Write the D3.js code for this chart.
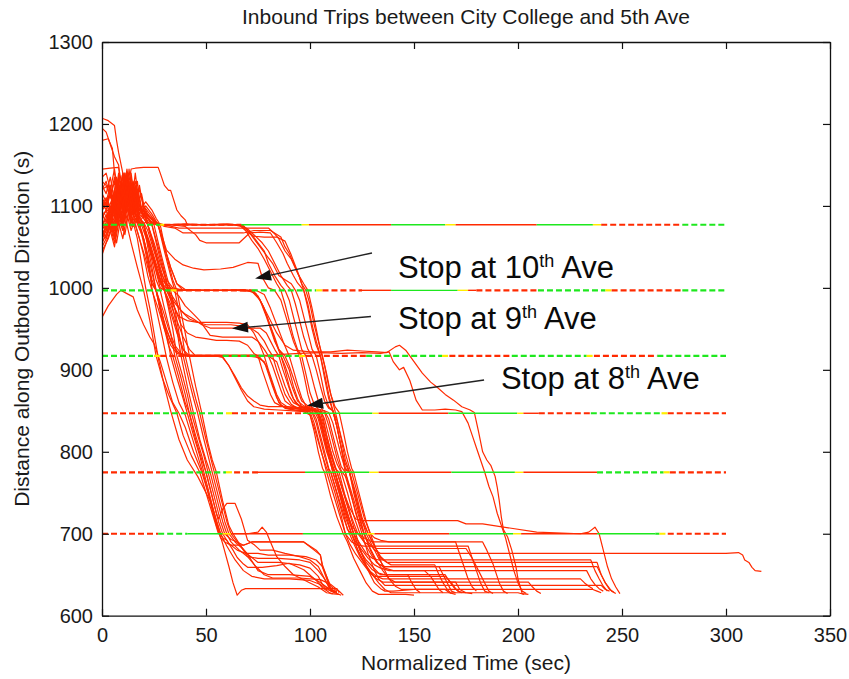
<!DOCTYPE html>
<html><head><meta charset="utf-8">
<script src="https://cdn.jsdelivr.net/npm/d3@7"></script>
<style>
body{margin:0;background:#fff;}
text{font-family:"Liberation Sans",Arial,Helvetica,sans-serif;}
</style>
</head><body>
<svg id="chart" width="849" height="679"></svg>
<script>
// ---------------- data ----------------
const title = "Inbound Trips between City College and 5th Ave";
const xLabel = "Normalized Time (sec)";
const yLabel = "Distance along Outbound Direction (s)";
const xTicks = [0, 50, 100, 150, 200, 250, 300, 350];
const yTicks = [600, 700, 800, 900, 1000, 1100, 1200, 1300];

// signal stop-line positions (s) and their phase plans [start, end, state, kind] (kind: d = dashed plan, s = solid)
const stopLevels = [1077, 997, 917, 847, 775, 700];
const signal1077 = [[0,28,'G','d'],[28,30,'Y','d'],[30,67,'R','d'],[67,96,'G','s'],[96,99.5,'Y','s'],[99.5,139,'R','s'],[139,165,'G','s'],[165,170,'Y','s'],[170,209,'R','s'],[209,236,'G','s'],[236,240,'Y','s'],[240,279,'R','d'],[279,300,'G','d']];
const signal997 = [[0,33,'G','d'],[33,36,'Y','d'],[36,72,'R','d'],[72,103,'G','d'],[103,106,'Y','d'],[106,125,'R','d'],[125,139,'R','s'],[139,171,'G','s'],[171,176,'Y','s'],[176,180,'R','s'],[180,209.6,'R','d'],[209.6,242,'G','d'],[242,245,'Y','d'],[245,279,'R','d'],[279,300,'G','d']];
const signal917 = [[0,25,'G','d'],[25,28,'Y','d'],[28,58,'R','d'],[58,94.7,'G','d'],[94.7,98,'Y','d'],[98,127,'R','d'],[127,163.5,'G','d'],[163.5,167,'Y','d'],[167,197,'R','d'],[197,233,'G','d'],[233,236.5,'Y','d'],[236.5,267,'R','d'],[267,300,'G','d']];
const signal847 = [[0,25,'R','d'],[25,59.6,'G','d'],[59.6,62.5,'Y','d'],[62.5,96.6,'R','d'],[96.6,130,'G','s'],[130,133,'Y','s'],[133,166.5,'R','s'],[166.5,199.6,'G','s'],[199.6,202.6,'Y','s'],[202.6,210,'R','s'],[210,235,'R','d'],[235,269,'G','d'],[269,272,'Y','d'],[272,300,'R','d']];
const signal775 = [[0,28,'R','d'],[28,59.6,'G','d'],[59.6,63.5,'Y','d'],[63.5,75,'R','d'],[75,97.6,'R','s'],[97.6,128.5,'G','s'],[128.5,133,'Y','s'],[133,168,'R','s'],[168,198.5,'G','s'],[198.5,202.6,'Y','s'],[202.6,238,'R','s'],[238,270,'G','d'],[270,273,'Y','d'],[273,300,'R','d']];
const signal700 = [[0,27,'R','d'],[27,41,'G','d'],[41,58,'G','s'],[58,62,'Y','s'],[62,96.6,'R','s'],[96.6,127.5,'G','s'],[127.5,131,'Y','s'],[131,167,'R','s'],[167,197.6,'G','s'],[197.6,201.5,'Y','s'],[201.5,238,'R','s'],[238,266,'G','s'],[266,268,'G','d'],[268,272,'Y','d'],[272,300,'R','d']];
const signalPlans = [signal1077, signal997, signal917, signal847, signal775, signal700];

// fast trips (clear all signals in the first green wave)
const groupA = [
 [[0,1207],[3,1204],[6,1198],[7,1180],[8,1165],[10,1140],[11,1120],[12,1132],[13,1105],[14,1090],[15,1080],[17,1060],[19,1030],[21,1000],[23,975],[25,945],[27,915],[30,880],[33,850],[37,815],[41,790],[46,770],[50,750],[52,740],[54,720],[56,704],[58,688],[61,660],[63,640],[65,625],[67,631],[69,633],[113,633],[114,628]],
 [[0,1195],[2,1190],[4,1175],[6,1160],[8,1150],[9,1120],[10,1135],[12,1110],[14,1125],[15,1095],[17,1082],[19,1070],[22,1040],[24,1000],[26,975],[29,940],[31,915],[34,885],[37,860],[40,845],[43,820],[46,795],[49,770],[52,740],[55,710],[57,695],[59,690],[62,686],[68,686],[72,690],[90,690],[97,690],[103,680],[105,674],[106,659],[108,645],[110,631],[112,628]],
 [[0,1180],[3,1182],[5,1170],[6,1140],[8,1110],[9,1130],[11,1100],[13,1118],[15,1090],[17,1078],[20,1060],[23,1030],[26,997],[28,975],[31,945],[33,917],[36,890],[39,865],[41,847],[44,820],[47,795],[49,775],[52,745],[55,715],[57,700],[58,695],[60,692],[63,680],[65,671],[68,663],[70,659],[77,659],[84,661],[90,664],[97,656],[103,643],[106,634],[110,627],[114,626]],
 [[0,1145],[4,1146],[8,1147],[10,1120],[12,1140],[14,1100],[16,1110],[18,1085],[20,1077],[23,1045],[26,1010],[28,997],[30,975],[33,945],[35,917],[38,890],[40,870],[42,847],[45,820],[48,795],[50,775],[53,745],[55,725],[56,718],[58,730],[60,737],[64,737],[67,718],[70,692],[73,687],[76,680],[82,680],[88,676],[95,672],[100,668],[104,660],[106,650],[108,640],[111,630],[113,628]],
 [[0,1120],[3,1125],[5,1105],[7,1135],[9,1095],[11,1140],[13,1100],[15,1125],[17,1090],[20,1095],[22,1077],[25,1050],[28,1020],[30,997],[32,975],[34,950],[36,917],[39,890],[41,870],[43,847],[46,820],[49,795],[51,775],[54,745],[57,715],[59,700],[62,693],[65,690],[68,686],[72,690],[97,690],[102,680],[105,674],[106,662],[108,648],[110,631],[113,629]],
 [[0,1100],[2,1105],[4,1115],[6,1090],[8,1125],[10,1100],[12,1135],[14,1095],[16,1120],[18,1100],[21,1090],[24,1077],[27,1045],[30,1015],[32,997],[35,965],[38,917],[41,880],[44,847],[47,815],[50,790],[52,775],[55,745],[58,715],[60,700],[62,690],[66,680],[70,672],[75,670],[85,670],[95,668],[100,665],[104,655],[107,645],[109,635],[112,628]],
 [[0,1090],[3,1095],[5,1110],[7,1085],[9,1120],[11,1090],[13,1145],[15,1100],[17,1130],[19,1090],[22,1085],[25,1077],[28,1045],[31,1015],[33,997],[35,975],[37,945],[39,917],[42,885],[44,865],[46,847],[49,815],[51,795],[53,775],[56,745],[59,715],[61,700],[64,690],[67,683],[70,675],[75,665],[85,665],[95,662],[100,658],[104,648],[106,638],[110,630],[115,625]],
 [[0,1075],[2,1085],[5,1100],[7,1075],[9,1115],[11,1085],[13,1130],[15,1090],[17,1120],[19,1095],[21,1100],[24,1090],[27,1077],[30,1045],[33,1015],[35,997],[37,970],[40,917],[43,885],[45,865],[47,847],[50,815],[52,795],[54,775],[57,745],[60,715],[62,700],[65,690],[70,675],[75,655],[80,650],[90,650],[100,648],[104,642],[108,635],[112,630]],
 [[0,1065],[3,1080],[5,1105],[7,1080],[9,1110],[11,1090],[12,1077],[14,1055],[17,1025],[20,997],[23,960],[26,917],[29,890],[32,870],[36,847],[39,820],[43,795],[47,775],[50,750],[53,725],[56,700],[60,700],[70,700],[75,702],[77,708],[79,702],[81,690],[84,672],[88,660],[92,650],[96,645],[100,640],[104,635],[108,628],[111,627]],
 [[0,1060],[2,1070],[4,1090],[6,1075],[8,1100],[10,1085],[12,1115],[14,1090],[16,1110],[18,1095],[21,1105],[24,1095],[26,1085],[28,1077],[31,1040],[34,1010],[36,997],[38,970],[40,945],[42,917],[45,880],[48,847],[51,810],[53,790],[55,775],[58,740],[61,710],[63,700],[66,688],[70,672],[74,660],[78,650],[82,646],[95,646],[105,644],[110,638],[114,630],[116,625]],
 [[0,964],[3,978],[5,985],[7,992],[9,997],[12,993],[15,989],[17,973],[20,955],[23,940],[25,932],[28,910],[31,885],[34,860],[37,847],[40,830],[44,800],[48,775],[51,750],[54,725],[57,700],[60,685],[64,668],[68,655],[72,648],[78,645],[90,645],[100,643],[105,638],[108,632],[112,629]],
 [[0,1082],[3,1070],[5,1090],[8,1110],[10,1095],[12,1125],[14,1100],[16,1078],[18,1060],[21,1035],[24,1005],[26,997],[29,960],[32,930],[34,917],[37,890],[40,860],[42,847],[45,815],[48,790],[50,775],[53,745],[56,715],[58,700],[61,688],[65,680],[69,676],[75,676],[80,674],[90,674],[98,672],[103,668],[106,660],[108,648],[110,636],[113,630]]
];

// trips delayed at the upstream signals / stops
const groupB = [
 [[0,1110],[2,1100],[4,1120],[6,1095],[8,1130],[10,1100],[12,1140],[14,1105],[16,1125],[18,1095],[20,1100],[23,1090],[26,1080],[28,1070],[31,1046],[35,1035],[39,1028],[44,1024],[49,1022],[57,1023],[63,1025],[70,1031],[75,1030],[77,1013],[80,1000],[83,997],[86,985],[89,960],[92,935],[95,917],[97,895],[99,870],[101,852],[104,850],[106,845],[108,820],[110,800],[113,775],[116,750],[119,725],[122,700],[125,675],[128,655],[131,640],[134,633],[136,630],[140,630],[150,632],[160,632],[165,632],[167,628],[170,626]],
 [[0,1100],[3,1105],[5,1090],[7,1125],[9,1095],[11,1140],[13,1100],[15,1130],[17,1100],[19,1115],[21,1090],[24,1085],[27,1077],[33,1077],[40,1075],[45,1065],[47,1058],[50,1055],[58,1055],[66,1055],[71,1067],[76,1068],[81,1067],[84,1055],[87,1042],[89,1030],[92,1015],[94,1006],[97,997],[99,975],[101,950],[103,930],[105,917],[107,890],[109,865],[111,850],[113,830],[115,805],[117,775],[120,745],[122,725],[125,700],[128,675],[131,655],[133,645],[136,637],[140,637],[160,637],[200,637],[240,637],[242,632],[244,630]],
 [[0,1095],[2,1100],[4,1115],[6,1090],[8,1120],[10,1095],[12,1135],[14,1100],[16,1120],[18,1090],[20,1095],[23,1085],[26,1080],[30,1075],[35,1073],[39,1067],[50,1067],[60,1067],[68,1067],[73,1070],[81,1070],[86,1062],[88,1050],[90,1042],[93,1025],[95,1013],[97,997],[99,980],[101,955],[103,935],[105,917],[107,895],[109,870],[111,850],[113,830],[115,805],[117,785],[119,775],[121,750],[124,720],[126,700],[129,680],[132,665],[135,660],[140,660],[162,660],[164,650],[166,640],[168,630],[170,628]],
 [[0,1085],[2,1095],[4,1080],[6,1110],[8,1085],[10,1125],[12,1095],[14,1140],[16,1100],[18,1125],[20,1095],[22,1090],[25,1080],[30,1077],[37,1073],[45,1073],[55,1073],[65,1073],[75,1073],[80,1073],[83,1066],[85,1060],[88,1045],[91,1035],[94,1018],[97,1005],[99,997],[101,975],[103,950],[105,925],[107,905],[109,880],[111,860],[113,840],[115,815],[117,790],[119,775],[122,745],[125,715],[128,700],[131,685],[134,670],[137,665],[140,665],[200,665],[238,665],[240,650],[242,640],[245,630],[247,627]],
 [[0,1130],[2,1125],[4,1110],[6,1130],[8,1100],[10,1140],[12,1105],[14,1120],[16,1090],[18,1085],[20,1077],[23,1055],[26,1030],[29,1010],[32,1000],[36,997],[45,997],[55,997],[65,997],[72,996],[75,990],[78,975],[80,960],[83,940],[85,925],[87,917],[90,900],[92,880],[94,865],[96,855],[100,852],[103,850],[105,840],[107,815],[109,795],[111,775],[114,750],[117,725],[120,700],[123,680],[126,665],[129,652],[132,645],[135,641],[140,641],[160,641],[170,641],[172,632],[175,628],[178,627]],
 [[0,1070],[2,1080],[4,1095],[6,1075],[8,1105],[10,1080],[12,1120],[14,1095],[16,1110],[18,1085],[20,1080],[22,1070],[25,1045],[28,1020],[31,1005],[34,998],[40,997],[50,997],[60,997],[70,997],[74,993],[77,980],[80,960],[82,945],[84,930],[86,917],[88,900],[90,880],[92,865],[95,855],[98,852],[102,850],[104,845],[106,830],[108,810],[110,790],[112,775],[115,750],[118,725],[121,700],[124,680],[127,665],[130,656],[134,650],[140,650],[147,650],[149,640],[151,632],[153,628]],
 [[0,1055],[2,1065],[4,1080],[6,1060],[8,1090],[10,1075],[12,1105],[14,1080],[16,1095],[18,1075],[20,1077],[23,1050],[26,1025],[29,1005],[32,997],[35,985],[38,972],[42,962],[46,958],[50,955],[56,955],[62,955],[68,953],[72,950],[75,945],[78,935],[80,925],[82,917],[84,900],[86,885],[88,870],[91,858],[94,853],[98,851],[102,850],[104,840],[106,820],[108,800],[110,785],[112,775],[115,745],[118,720],[121,700],[124,688],[127,676],[130,670],[133,668],[140,668],[180,668],[220,668],[235,668],[237,655],[239,645],[241,636],[243,630]],
 [[0,1045],[3,1060],[5,1075],[7,1055],[9,1085],[11,1065],[13,1095],[15,1075],[17,1085],[19,1077],[22,1055],[25,1030],[28,1005],[31,997],[34,985],[37,975],[40,968],[44,962],[48,955],[52,951],[58,951],[64,951],[70,951],[76,951],[79,945],[81,935],[83,925],[85,917],[87,900],[89,885],[91,870],[93,860],[96,855],[100,852],[104,850],[106,835],[108,815],[110,795],[112,780],[114,775],[117,745],[120,720],[123,700],[126,690],[129,685],[132,682],[140,682],[160,682],[175,682],[178,670],[181,655],[184,640],[186,630],[188,627]],
 [[0,1075],[2,1090],[4,1070],[6,1100],[8,1080],[10,1115],[12,1090],[14,1130],[16,1095],[18,1110],[20,1085],[22,1077],[25,1050],[28,1025],[31,1000],[34,997],[37,990],[40,978],[44,968],[47,960],[52,942],[58,940],[66,940],[72,940],[75,935],[78,925],[80,917],[82,905],[84,890],[86,875],[88,862],[91,856],[95,853],[99,851],[103,850],[105,838],[107,815],[109,795],[111,775],[114,750],[117,720],[120,700],[123,680],[126,665],[129,654],[132,648],[135,645],[140,645],[200,645],[230,645],[232,640],[234,636],[236,633]],
 [[0,1065],[2,1075],[4,1090],[6,1070],[8,1100],[10,1080],[12,1115],[14,1090],[16,1100],[18,1080],[20,1077],[22,1050],[24,1025],[26,997],[28,975],[31,950],[34,930],[37,920],[40,917],[50,917],[60,917],[70,917],[76,915],[79,905],[81,890],[83,875],[85,860],[88,853],[92,851],[97,850],[100,849],[102,835],[104,815],[106,795],[108,775],[111,750],[114,725],[117,700],[120,690],[123,686],[126,685],[130,685],[150,685],[170,685],[176,685],[178,670],[180,655],[182,640],[184,630],[186,628]],
 [[0,1050],[2,1060],[4,1075],[6,1055],[8,1085],[10,1070],[12,1100],[14,1075],[16,1090],[18,1077],[20,1060],[22,1035],[24,1010],[26,997],[28,980],[30,955],[33,935],[36,922],[40,918],[50,918],[62,918],[72,918],[80,917],[84,910],[86,895],[88,880],[90,868],[92,860],[95,856],[99,853],[102,851],[104,845],[106,825],[108,805],[110,785],[112,775],[114,755],[117,730],[120,710],[123,700],[126,695],[130,690],[140,690],[165,690],[170,690],[172,675],[174,660],[176,645],[178,635],[180,630]],
 [[0,1090],[2,1080],[4,1100],[6,1085],[8,1120],[10,1090],[12,1130],[14,1100],[16,1115],[18,1090],[20,1085],[22,1077],[25,1050],[28,1020],[30,997],[33,970],[36,945],[39,925],[42,917],[55,917],[70,917],[82,917],[86,917],[88,905],[90,890],[92,875],[94,862],[97,856],[100,853],[103,851],[105,848],[107,830],[109,810],[111,790],[113,775],[116,752],[119,732],[122,718],[125,716],[140,716],[171,716],[175,712],[183,712],[209,702],[230,700],[234,702],[237,708],[239,700],[241,680],[243,660],[245,645],[247,635],[249,627]],
 [[0,1060],[2,1070],[4,1085],[6,1065],[8,1095],[10,1075],[12,1110],[14,1085],[16,1100],[18,1080],[20,1088],[22,1082],[25,1079],[30,1077],[40,1077],[50,1077],[60,1077],[67,1077],[70,1070],[73,1060],[76,1050],[79,1040],[82,1030],[85,1015],[88,1010],[91,1005],[93,997],[95,985],[97,965],[99,945],[101,925],[103,917],[105,895],[107,870],[109,855],[111,850],[113,830],[115,805],[117,780],[119,775],[121,755],[124,725],[127,700],[130,685],[133,670],[136,658],[140,655],[180,655],[225,655],[233,655],[235,645],[237,638],[239,633],[241,630]],
 [[0,1040],[2,1055],[4,1070],[6,1050],[8,1080],[10,1060],[12,1090],[14,1070],[16,1085],[18,1075],[21,1080],[25,1078],[30,1077],[40,1078],[50,1077],[60,1078],[68,1076],[72,1065],[75,1055],[78,1045],[80,1030],[83,1015],[86,1003],[88,997],[90,985],[92,965],[94,945],[96,925],[98,917],[100,900],[102,880],[104,862],[106,851],[109,848],[111,835],[113,815],[115,795],[117,778],[119,775],[122,750],[125,720],[128,700],[131,685],[134,672],[137,665],[139,662],[142,662],[160,662],[162,650],[164,640],[166,632],[168,627]],
 [[0,1115],[2,1105],[4,1125],[6,1100],[8,1135],[10,1110],[12,1145],[14,1110],[16,1130],[18,1100],[20,1090],[22,1080],[24,1077],[27,1050],[30,1020],[32,997],[35,975],[38,955],[41,945],[45,940],[50,938],[55,936],[60,936],[66,935],[70,930],[73,920],[75,917],[77,900],[79,885],[81,870],[83,860],[86,856],[90,853],[95,852],[98,850],[100,845],[102,825],[104,800],[106,780],[107,775],[110,745],[113,720],[116,700],[118,690],[121,670],[124,655],[127,640],[130,630],[133,626],[140,626],[146,626],[150,625]],
 [[0,1135],[2,1140],[4,1120],[6,1145],[8,1110],[10,1140],[12,1115],[14,1145],[16,1146],[20,1147],[25,1147],[27,1147],[28,1140],[30,1125],[32,1119],[33,1119],[34,1111],[36,1095],[38,1088],[40,1083],[41,1077],[50,1077],[60,1077],[66,1077],[69,1070],[72,1058],[75,1048],[78,1035],[81,1020],[84,1005],[86,997],[88,980],[90,960],[92,940],[94,925],[96,917],[98,895],[100,872],[102,858],[104,852],[107,850],[109,840],[111,820],[113,800],[115,782],[117,775],[120,750],[123,725],[126,700],[128,690],[131,680],[134,676],[140,676],[200,676],[260,676],[300,676],[306,677],[308,674],[309,668],[311,665],[312.5,659],[314,655],[317,654]],
 [[0,1080],[2,1070],[4,1095],[6,1080],[8,1110],[10,1085],[12,1125],[14,1095],[16,1140],[18,1100],[20,1090],[22,1077],[25,1055],[28,1030],[31,1010],[34,1000],[38,998],[48,997],[58,997],[68,998],[73,996],[76,985],[79,965],[81,950],[83,935],[85,925],[88,917],[90,905],[92,890],[94,875],[96,862],[99,856],[102,853],[105,851],[107,840],[109,820],[111,800],[113,785],[115,775],[118,750],[121,722],[124,700],[127,685],[130,672],[133,663],[136,660],[140,660],[180,660],[238,660],[240,650],[242,640],[244,632],[246,629]],
 [[0,1055],[2,1065],[4,1080],[6,1060],[8,1095],[10,1075],[12,1100],[14,1080],[16,1077],[18,1060],[20,1040],[22,1015],[24,997],[27,975],[30,950],[33,930],[36,920],[40,917],[48,917],[55,917],[58,915],[61,905],[64,890],[67,875],[70,862],[73,855],[78,852],[85,851],[92,850],[97,849],[100,845],[102,830],[104,812],[106,795],[108,780],[109,775],[112,750],[115,722],[117,700],[119,688],[122,675],[125,665],[128,655],[131,648],[134,648],[140,648],[165,648],[168,640],[170,633],[172,629],[175,628]],
 [[0,1105],[2,1095],[4,1115],[6,1090],[8,1125],[10,1100],[12,1130],[14,1095],[16,1110],[18,1085],[20,1090],[23,1082],[26,1077],[35,1077],[45,1077],[55,1077],[63,1077],[67,1075],[70,1068],[73,1063],[78,1062],[84,1062],[88,1057],[91,1040],[94,1020],[96,1005],[98,997],[100,980],[102,955],[104,935],[106,917],[108,895],[110,870],[112,855],[114,848],[116,825],[118,800],[120,780],[121,775],[124,745],[127,715],[129,700],[132,680],[135,660],[138,645],[141,636],[144,632],[150,632],[200,632],[236,632],[238,630],[240,628]],
 [[0,1120],[2,1130],[4,1110],[6,1135],[8,1105],[10,1140],[12,1110],[14,1135],[16,1105],[18,1120],[20,1100],[22,1090],[25,1080],[27,1077],[30,1050],[33,1025],[36,1005],[40,998],[50,997],[60,997],[70,997],[74,997],[78,992],[81,975],[84,955],[87,935],[90,917],[92,900],[94,882],[96,866],[98,856],[101,852],[104,850],[107,848],[109,832],[111,812],[113,792],[115,777],[117,770],[120,745],[123,718],[126,700],[129,682],[132,667],[135,655],[138,645],[141,641],[145,641],[170,641],[205,641],[207,635],[209,630],[211,627]],
 [[0,1070],[2,1060],[4,1085],[6,1070],[8,1100],[10,1080],[12,1120],[14,1090],[16,1105],[18,1095],[21,1088],[24,1080],[28,1077],[38,1077],[48,1077],[58,1077],[66,1077],[70,1072],[73,1065],[77,1055],[80,1045],[83,1030],[86,1015],[89,1003],[91,997],[93,980],[95,960],[97,940],[99,925],[101,917],[103,900],[105,880],[107,862],[109,853],[111,850],[113,838],[115,818],[117,798],[119,780],[120,775],[123,748],[126,720],[129,700],[131,695],[134,692],[138,690],[150,690],[170,690],[183,690],[185,680],[188,663],[191,640],[193,630],[195,627]],
 [[0,1100],[2,1110],[4,1095],[6,1120],[8,1090],[10,1130],[12,1100],[14,1120],[16,1090],[18,1080],[20,1077],[23,1050],[26,1025],[29,1000],[31,997],[34,980],[37,965],[41,960],[46,958],[52,958],[60,958],[66,957],[70,955],[73,945],[76,930],[78,917],[80,900],[82,885],[84,870],[86,860],[89,855],[93,853],[97,851],[101,850],[103,840],[105,820],[107,800],[109,780],[110,775],[113,748],[116,720],[119,700],[121,688],[124,672],[127,660],[130,650],[133,640],[136,632],[139,628],[145,628],[160,628],[200,628],[203,626]],
 [[0,1085],[2,1095],[4,1080],[6,1105],[8,1085],[10,1120],[12,1095],[14,1110],[16,1090],[18,1077],[20,1055],[22,1030],[24,1005],[26,997],[29,975],[32,950],[35,930],[38,920],[41,917],[52,917],[64,917],[74,916],[78,910],[80,895],[82,880],[84,866],[86,857],[89,853],[93,851],[98,850],[101,848],[103,835],[105,815],[107,795],[109,778],[110,775],[113,750],[116,725],[118,705],[120,700],[122,690],[125,680],[128,670],[131,662],[134,658],[138,655],[145,655],[155,655],[158,648],[160,640],[162,632],[164,628]],
 [[0,1095],[2,1105],[4,1085],[6,1115],[8,1095],[10,1125],[12,1105],[14,1115],[16,1090],[18,1085],[20,1078],[22,1060],[25,1035],[28,1010],[30,997],[33,975],[36,950],[39,925],[41,917],[50,917],[58,916],[61,905],[64,892],[67,878],[70,868],[73,862],[76,857],[80,855],[88,855],[95,854],[100,853],[103,850],[105,840],[107,818],[109,798],[111,780],[112,775],[115,750],[118,725],[121,700],[124,680],[127,668],[130,660],[133,652],[136,650],[140,650],[165,650],[167,642],[169,635],[171,630],[173,628]]
];

// very slow trips
const slowTrips = [
 [[0,1125],[2,1115],[4,1135],[6,1105],[8,1140],[10,1110],[12,1130],[14,1100],[16,1120],[18,1095],[21,1088],[24,1080],[27,1077],[30,1050],[33,1025],[36,1005],[39,997],[45,997],[55,997],[65,997],[72,996],[76,985],[80,965],[84,945],[88,930],[92,924],[100,922],[110,922],[118,924],[125,923],[132,922],[137,921],[141,928],[143,930],[146,924],[150,910],[154,896],[158,885],[161,879],[165,870],[169,863],[173,855],[177,851],[179,848],[181,825],[183,800],[185,790],[187,783],[189,770],[190,757],[191,740],[192,720],[193,705],[195,696],[197,680],[199,660],[200,645],[202,627],[205,626]],
 [[0,1060],[2,1075],[4,1090],[6,1070],[8,1105],[10,1080],[12,1115],[14,1090],[16,1105],[18,1085],[20,1077],[23,1050],[26,1020],[28,1000],[30,997],[33,980],[36,960],[39,940],[42,925],[45,917],[60,917],[80,918],[95,920],[105,921],[115,920],[125,921],[134,920],[138,922],[140,910],[143,900],[145,903],[148,887],[151,863],[154,851],[160,851],[165,852],[170,851],[173,849],[176,835],[178,820],[180,805],[182,790],[184,775],[186,758],[188,745],[190,725],[192,710],[194,695],[196,675],[198,655],[200,640],[202,630],[204,627]]
];

// annotation arrows: tail and tip in data units, label anchor
const annotations = [
 {num: "10", tail: [129.8, 1042.6], tip: [73.6, 1011.4], label: [142.3, 1012]},
 {num: "9",  tail: [129.3, 965.1],  tip: [62.5, 950.4],  label: [142.3, 950]},
 {num: "8",  tail: [183.7, 887.6],  tip: [98.6, 856.5],  label: [191.8, 876.6]}
];

// ---------------- drawing ----------------
const W = 849, H = 679;
const M = {left: 102, right: 830, top: 42, bottom: 615.7};
const svg = d3.select("#chart");
const x = d3.scaleLinear().domain([0, 350]).range([M.left, M.right]);
const y = d3.scaleLinear().domain([600, 1300]).range([M.bottom, M.top]);

const colors = {G: "#1ee81e", Y: "#ffee00", R: "#ff2a00"};
const tripColor = "#ff2a00";

svg.append("rect").attr("width", W).attr("height", H).attr("fill", "#fff");

svg.append("defs").append("clipPath").attr("id", "clip")
  .append("rect").attr("x", M.left).attr("y", M.top)
  .attr("width", M.right - M.left).attr("height", M.bottom - M.top);

const plot = svg.append("g").attr("clip-path", "url(#clip)");
const line = d3.line().x(d => x(d[0])).y(d => y(d[1]));

const allTrips = groupA.concat(groupB, slowTrips);
plot.append("g").selectAll("path").data(allTrips).join("path")
  .attr("d", line).attr("fill", "none")
  .attr("stroke", tripColor).attr("stroke-width", 1.2)
  .attr("stroke-linejoin", "round");

// signals on top
stopLevels.forEach((lvl, i) => {
  const g = plot.append("g");
  g.selectAll("line").data(signalPlans[i]).join("line")
    .attr("x1", d => x(d[0])).attr("x2", d => x(d[1]))
    .attr("y1", y(lvl)).attr("y2", y(lvl))
    .attr("stroke", d => colors[d[2]])
    .attr("stroke-width", d => d[3] === 'd' ? 2.2 : 1.4)
    .attr("stroke-dasharray", d => d[3] === 'd' ? "6,3" : null);
});

// axes
const axisColor = "#111";
const fmt = d3.format("d");
const gx = svg.append("g").attr("transform", `translate(0,${M.bottom})`)
  .call(d3.axisBottom(x).tickValues(xTicks).tickFormat(fmt).tickSize(-7).tickSizeOuter(0).tickPadding(12));
const gxt = svg.append("g").attr("transform", `translate(0,${M.top})`)
  .call(d3.axisTop(x).tickValues(xTicks).tickFormat("").tickSize(-7).tickSizeOuter(0));
const gy = svg.append("g").attr("transform", `translate(${M.left},0)`)
  .call(d3.axisLeft(y).tickValues(yTicks).tickFormat(fmt).tickSize(-7).tickSizeOuter(0).tickPadding(9));
const gyr = svg.append("g").attr("transform", `translate(${M.right},0)`)
  .call(d3.axisRight(y).tickValues(yTicks).tickFormat("").tickSize(-7).tickSizeOuter(0));
[gx, gxt, gy, gyr].forEach(g => {
  g.selectAll("path.domain").attr("stroke", axisColor).attr("stroke-width", 1.3);
  g.selectAll(".tick line").attr("stroke", axisColor).attr("stroke-width", 1.2);
  g.selectAll(".tick text").attr("fill", "#1a1a1a").attr("font-size", 20)
    .attr("font-family", '"Liberation Sans", Arial, sans-serif');
});

// titles
svg.append("text").attr("x", (M.left + M.right) / 2).attr("y", 24)
  .attr("text-anchor", "middle").attr("font-size", 21).attr("fill", "#1a1a1a").text(title);
svg.append("text").attr("x", (M.left + M.right) / 2).attr("y", 670)
  .attr("text-anchor", "middle").attr("font-size", 21).attr("fill", "#1a1a1a").text(xLabel);
svg.append("text").attr("transform", `translate(29,${(M.top + M.bottom) / 2}) rotate(-90)`)
  .attr("text-anchor", "middle").attr("font-size", 21).attr("fill", "#1a1a1a").text(yLabel);

// annotations
annotations.forEach(a => {
  const x0 = x(a.tail[0]), y0 = y(a.tail[1]);
  const x1 = x(a.tip[0]), y1 = y(a.tip[1]);
  const ang = Math.atan2(y1 - y0, x1 - x0);
  const L = 16, Wd = 5.5;
  const bx = x1 - L * Math.cos(ang), by = y1 - L * Math.sin(ang);
  svg.append("line").attr("x1", x0).attr("y1", y0).attr("x2", bx).attr("y2", by)
    .attr("stroke", "#222").attr("stroke-width", 1.4);
  const px = -Math.sin(ang), py = Math.cos(ang);
  svg.append("path")
    .attr("d", `M${x1},${y1}L${bx + px * Wd},${by + py * Wd}L${bx - px * Wd},${by - py * Wd}Z`)
    .attr("fill", "#111");
  const t = svg.append("text").attr("x", x(a.label[0])).attr("y", y(a.label[1]))
    .attr("font-size", 31).attr("fill", "#0a0a0a");
  t.append("tspan").text("Stop at " + a.num);
  t.append("tspan").attr("font-size", 18).attr("dy", -11).text("th");
  t.append("tspan").attr("dy", 11).text(" Ave");
});
</script>
</body></html>
